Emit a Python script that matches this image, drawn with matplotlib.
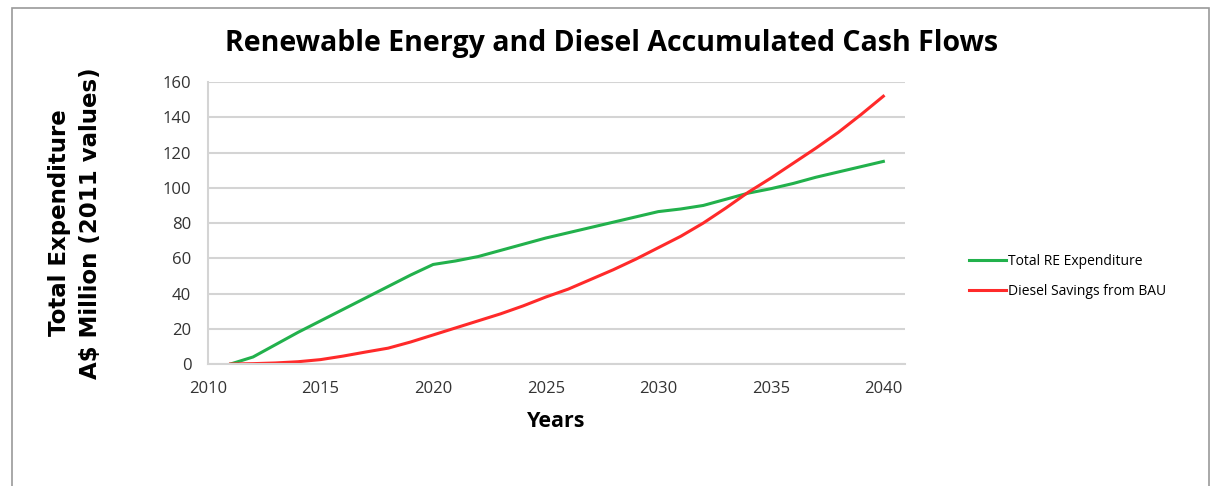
import numpy as np
import matplotlib
matplotlib.use('Agg')
import matplotlib.pyplot as plt
from matplotlib.patches import Rectangle

## data
years = list(range(2011, 2041))
re_expenditure = [0, 4, 11, 18, 24.5, 31, 37.5, 44, 50.5, 56.5,
                  58.5, 61, 64.5, 68, 71.5, 74.5, 77.5, 80.5, 83.5, 86.5,
                  88, 90, 93.5, 97, 99.5, 102.5, 106, 109, 112, 115]
diesel_savings = [0, 0.2, 0.6, 1.3, 2.5, 4.5, 6.8, 9, 12.5, 16.5,
                  20.5, 24.5, 28.5, 33, 38, 42.5, 48, 53.5, 59.5, 66,
                  72.5, 80, 88.5, 97.5, 105.5, 114, 122.5, 131.5, 141.5, 152]
x_ticks = [2010, 2015, 2020, 2025, 2030, 2035, 2040]
y_ticks = [0, 20, 40, 60, 80, 100, 120, 140, 160]

plt.rcParams['font.family'] = ['Open Sans', 'DejaVu Sans']

fig = plt.figure(figsize=(12.18, 4.86), dpi=100)
ax = fig.add_axes([0.1708, 0.251, 0.572, 0.580])

## outer frame of the chart
fig.patches.append(Rectangle((0.010, -0.05), 0.983, 1.034, transform=fig.transFigure,
                             fill=False, edgecolor='#9a9a9a', linewidth=1.2))

ax.plot(years, re_expenditure, color='#22b14c', linewidth=2.2, label='Total RE Expenditure')
ax.plot(years, diesel_savings, color='#ff2a2a', linewidth=2.2, label='Diesel Savings from BAU')

ax.set_xlim(2010, 2040.95)
ax.set_ylim(0, 160)
ax.set_xticks(x_ticks)
ax.set_yticks(y_ticks)
ax.grid(axis='y', color='#d4d4d4', linewidth=1.5)
ax.set_axisbelow(True)
for s in ['top', 'right']:
    ax.spines[s].set_visible(False)
ax.spines['left'].set_color('#d4d4d4')
ax.spines['bottom'].set_color('#d4d4d4')
ax.spines['left'].set_linewidth(1.5)
ax.spines['bottom'].set_linewidth(1.5)
ax.tick_params(length=0, labelsize=12, colors='#333333', pad=12)

fig.text(0.5025, 0.91, 'Renewable Energy and Diesel Accumulated Cash Flows', fontsize=20.5,
         fontweight='bold', ha='center', va='center')
ax.set_xlabel('Years', fontsize=15.5, fontweight='bold', labelpad=10)
ax.set_ylabel('Total Expenditure\nA\\$ Million (2011 values)', fontsize=16.5,
              fontweight='bold', labelpad=44, linespacing=1.45, family='DejaVu Sans')

ax.legend(loc='center left', bbox_to_anchor=(1.075, 0.31), frameon=False,
          fontsize=10, handlelength=2.6, handletextpad=0.15, labelspacing=1.05)

fig.savefig('out.png', dpi=100)
